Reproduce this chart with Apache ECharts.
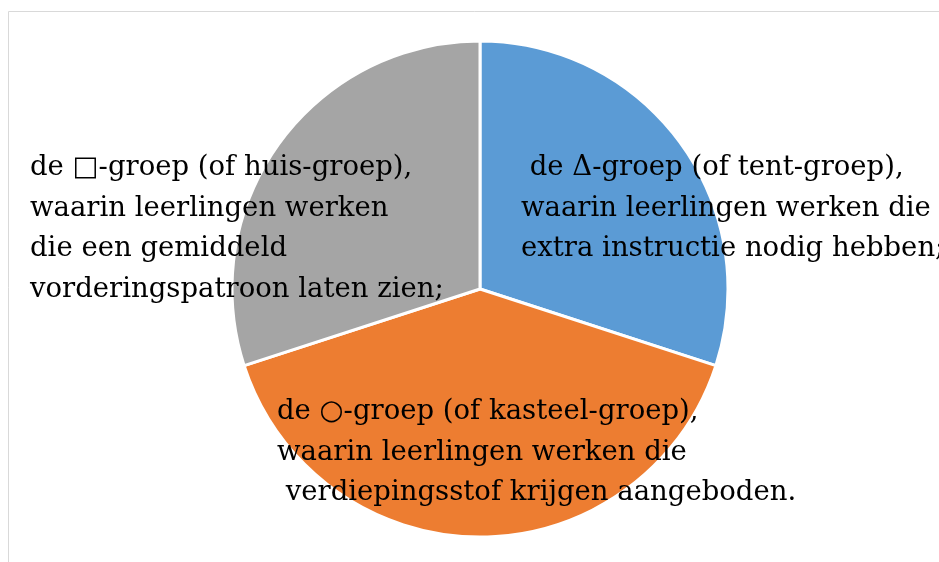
<!DOCTYPE html>
<html>
<head>
<meta charset="utf-8">
<script src="https://cdn.jsdelivr.net/npm/echarts@6/dist/echarts.min.js"></script>
<style>
  html, body { margin: 0; padding: 0; background: #fff; }
  #main { width: 939px; height: 562px; }
</style>
</head>
<body>
<div id="main"></div>
<script>
// groepen, met de klok mee vanaf boven
var groepen = [
  ' de \u0394-groep (of tent-groep),\nwaarin leerlingen werken die\nextra instructie nodig hebben;',
  'de \u25CB-groep (of kasteel-groep),\nwaarin leerlingen werken die\n verdiepingsstof krijgen aangeboden.',
  'de \u25A1-groep (of huis-groep),\nwaarin leerlingen werken\ndie een gemiddeld\nvorderingspatroon laten zien;'
];
var aandeel = [30, 40, 30];
var kleuren = ['#5B9BD5', '#ED7D31', '#A5A5A5'];

// label posities (linksboven van tekstblok)
var labelPos = [[521, 148], [277, 392], [30, 148]];

var myChart = echarts.init(document.getElementById('main'));
myChart.setOption({
  animation: false,
  graphic: [{
    type: 'rect',
    shape: { x: 8.5, y: 11.5, width: 1000, height: 600 },
    style: { fill: 'none', stroke: '#d9d9d9', lineWidth: 1 },
    z: -1
  }],
  series: [{
    type: 'pie',
    center: [480, 289],
    radius: 248,
    startAngle: 90,
    clockwise: true,
    itemStyle: { borderColor: '#fff', borderWidth: 3 },
    label: {
      show: true,
      position: 'inside',
      formatter: '{b}',
      fontFamily: 'DejaVu Serif',
      fontSize: 27.5,
      lineHeight: 40.5,
      color: '#000',
      align: 'left'
    },
    labelLayout: function (p) {
      return {
        x: labelPos[p.dataIndex][0],
        y: labelPos[p.dataIndex][1],
        align: 'left',
        verticalAlign: 'top'
      };
    },
    data: groepen.map(function (g, i) {
      return { name: g, value: aandeel[i], itemStyle: { color: kleuren[i] } };
    })
  }]
});
</script>
</body>
</html>
